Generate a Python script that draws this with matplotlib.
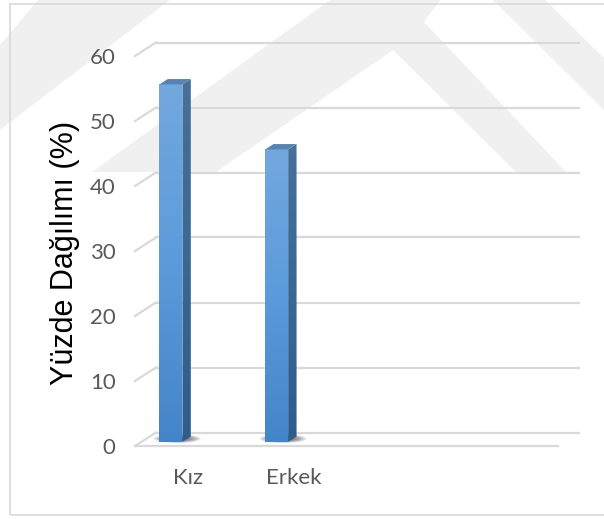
import matplotlib.pyplot as plt
import numpy as np
from matplotlib.patches import Polygon, Rectangle, Ellipse
from matplotlib.colors import LinearSegmentedColormap

categories = ['Kız', 'Erkek', '', '']
values = [55, 45]
y_ticks = [0, 10, 20, 30, 40, 50, 60]
y_label = 'Yüzde Dağılımı (%)'

W, H = 604, 519
plt.rcParams['font.family'] = ['Lato', 'DejaVu Sans']

fig = plt.figure(figsize=(W / 100, H / 100), dpi=100)


def px(x, y):
    # pixel position (from top-left) -> figure fraction
    return (x / W, 1 - y / H)


# faint watermark shapes behind the chart
wm_shapes = [
    [(0, 130), (170, 0), (38, 0), (0, 45)],
    [(92, 172), (216, 172), (393, 50), (516, 172), (566, 172), (424, 22), (440, 0), (330, 0)],
    [(493, 0), (545, 0), (604, 58), (604, 110)],
]
for shp in wm_shapes:
    fig.patches.append(Polygon([px(*p) for p in shp], closed=True, transform=fig.transFigure,
                               facecolor='#f0f0f0', edgecolor='none', zorder=-2))

# chart border
fig.patches.append(Rectangle(px(10, 515), 700 / W, 511 / H, transform=fig.transFigure,
                             fill=False, edgecolor='#d9d9d9', lw=1.2, zorder=-1))

ax = fig.add_axes([135 / W, 1 - 446 / H, 423 / W, 390 / H])
ax.patch.set_visible(False)
for s in ax.spines.values():
    s.set_visible(False)

# depth of the floor in data units
DX = 21 / (423 / 4)
DY = 13.5 / (390 / 60)
grid_col = '#d9d9d9'

for v in y_ticks:
    ax.plot([-0.5 + DX, 3.5 + DX], [v + DY, v + DY], color=grid_col, lw=1.6, clip_on=False, zorder=1)
    ax.plot([-0.5, -0.5 + DX], [v, v + DY], color=grid_col, lw=1.6, clip_on=False, zorder=1)
ax.plot([-0.5, 3.5], [0, 0], color=grid_col, lw=1.6, clip_on=False, zorder=1)

front_cmap = LinearSegmentedColormap.from_list('front', ['#4484c9', '#5b9bdb', '#72a8de'])
side_cmap = LinearSegmentedColormap.from_list('side', ['#2d5c8e', '#3a6794', '#47709b'])
grad = np.linspace(0, 1, 100).reshape(-1, 1)

OFF = -0.22
BW = 23 / (423 / 4)
Z0, Z1 = 0.3, 0.7
ddx, ddy = (Z1 - Z0) * DX, (Z1 - Z0) * DY

for i, v in enumerate(values):
    x0 = i + OFF - BW / 2 + Z0 * DX
    x1 = x0 + BW
    y0 = Z0 * DY
    y1 = v + Z0 * DY
    cx = (x0 + x1) / 2 + 0.06
    # soft shadow on the floor
    for k in range(7):
        f = 1 - k * 0.11
        ax.add_patch(Ellipse((cx, y0 + 0.5), 0.44 * f, 1.3 * f, facecolor='#1a1a1a',
                             edgecolor='none', alpha=0.13, zorder=2))
    front = Rectangle((x0, y0), BW, v, facecolor='none', edgecolor='none', zorder=3)
    ax.add_patch(front)
    im = ax.imshow(grad, extent=[x0, x1, y0, y1], aspect='auto', cmap=front_cmap,
                   origin='lower', zorder=3)
    im.set_clip_path(front)
    side = Polygon([(x1, y0), (x1 + ddx, y0 + ddy), (x1 + ddx, y1 + ddy), (x1, y1)],
                   facecolor='none', edgecolor='none', zorder=3)
    ax.add_patch(side)
    im2 = ax.imshow(grad, extent=[x1, x1 + ddx, y0, y1 + ddy], aspect='auto', cmap=side_cmap,
                    origin='lower', zorder=3)
    im2.set_clip_path(side)
    ax.add_patch(Polygon([(x0, y1), (x1, y1), (x1 + ddx, y1 + ddy), (x0 + ddx, y1 + ddy)],
                         facecolor='#5683b5', edgecolor='none', zorder=4))

ax.set_xlim(-0.5, 3.5)
ax.set_ylim(0, 60)
ax.set_yticks(y_ticks)
ax.set_xticks(range(len(categories)))
ax.set_xticklabels(categories)
ax.tick_params(axis='y', length=0, pad=14, labelsize=16, labelcolor='#595959')
ax.tick_params(axis='x', length=0, pad=16, labelsize=16, labelcolor='#595959')

fig.text(65 / W, 1 - 253 / H, y_label, rotation=90, ha='center', va='center',
         fontsize=22, family='Liberation Sans', color='black')

fig.savefig('out.png', dpi=100)
